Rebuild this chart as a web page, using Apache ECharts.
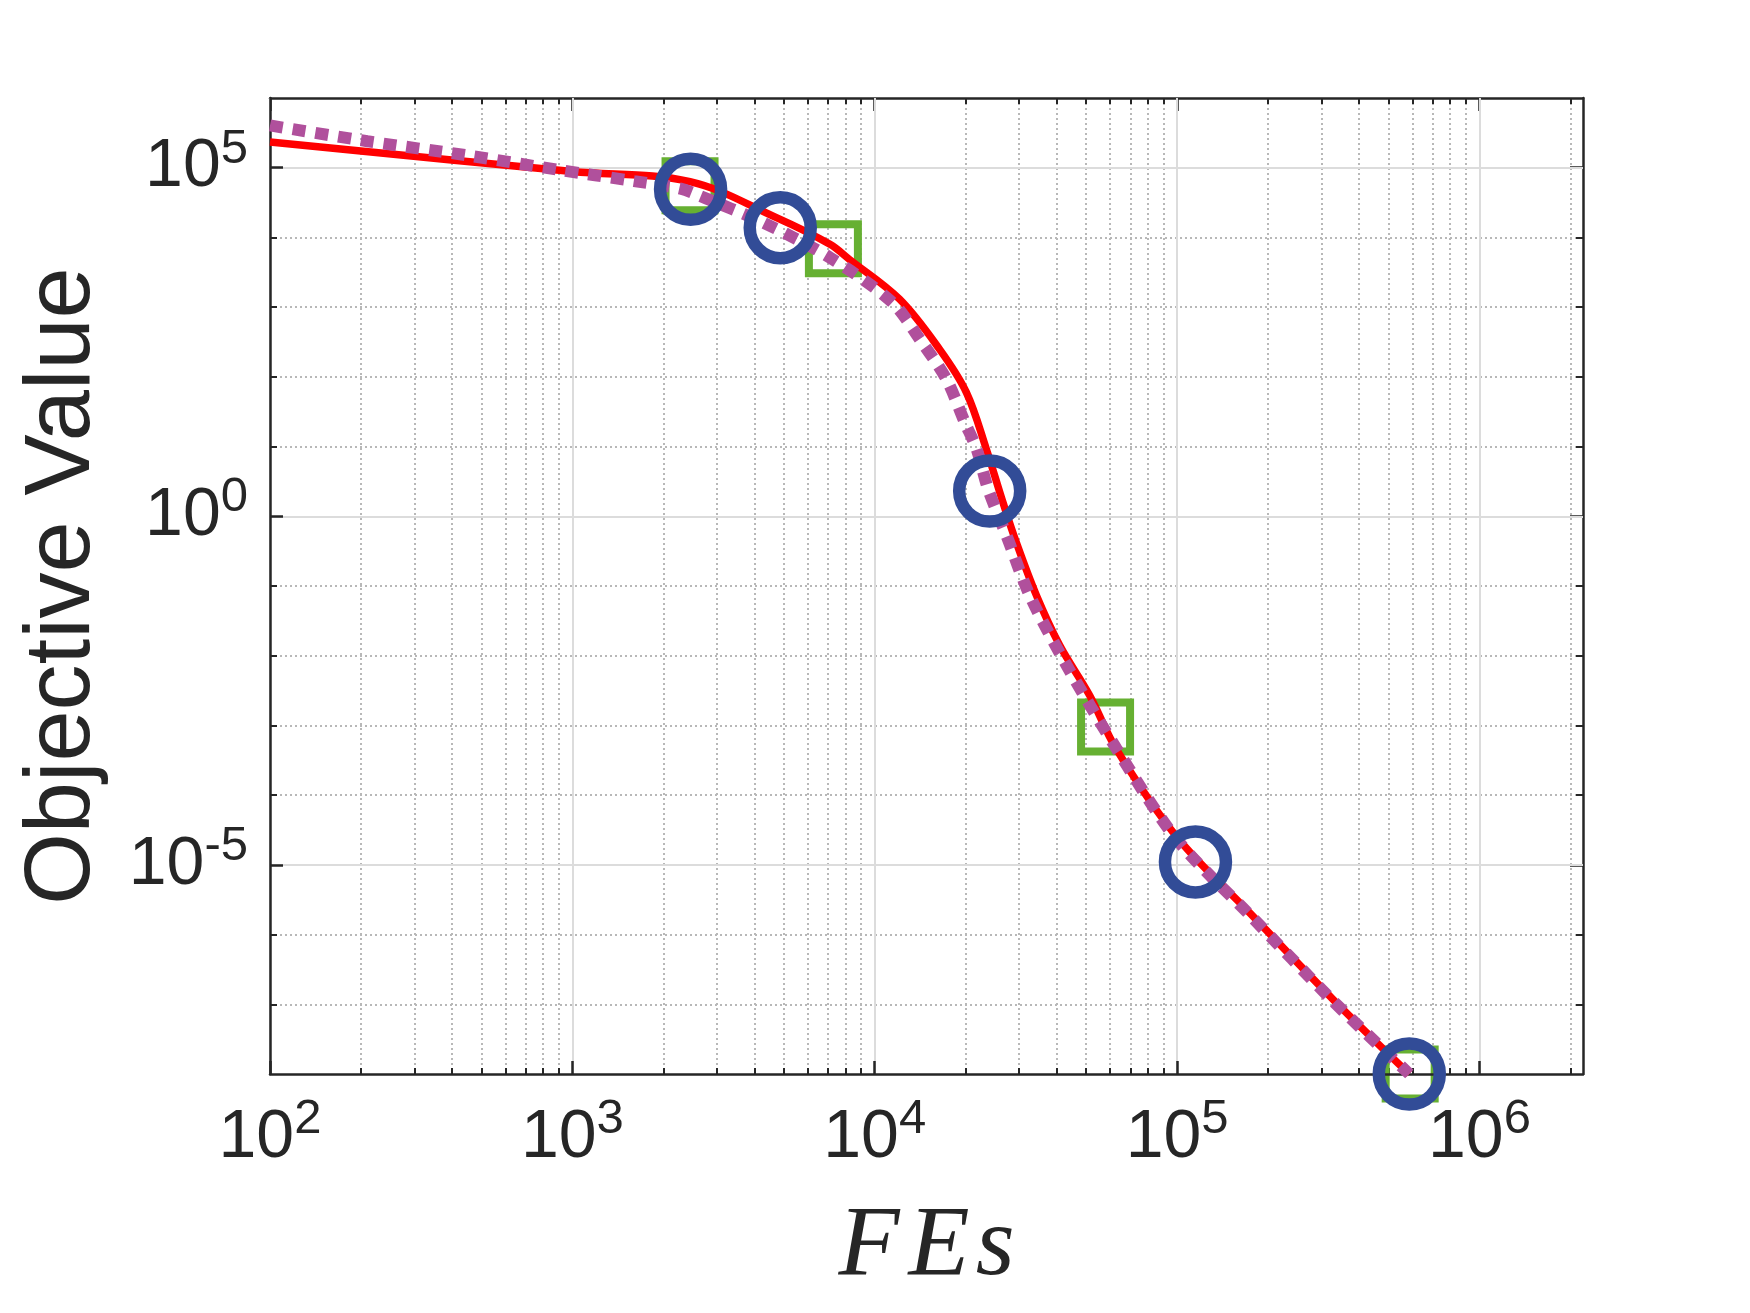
<!DOCTYPE html>
<html>
<head>
<meta charset="utf-8">
<script src="https://cdn.jsdelivr.net/npm/echarts@6/dist/echarts.min.js"></script>
<style>
  html, body { margin: 0; padding: 0; background: #fff; }
  #chart { width: 1750px; height: 1313px; }
</style>
</head>
<body>
<div id="chart"></div>
<script>
// 数据
var redFes = [100, 1000, 2450, 4730, 7110, 8240, 12080, 16370, 20090, 23390, 26550, 29380, 34280, 40930, 51400, 62950, 99540, 174200, 328900, 586000];
var redObj = [2.33e5, 8.8e4, 6.3e4, 1.92e4, 7.96e3, 4.85e3, 1.3e3, 249.5, 59.8, 9.2, 1.585, 0.424, 0.0728, 0.014, 2.69e-3, 4.57e-4, 2.55e-5, 2.03e-6, 1.16e-7, 1e-8];

var purpleFes = [100, 210, 450, 910, 1600, 2280, 2650, 4280, 7110, 11460, 14090, 17260, 19860, 21730, 23710, 27290, 32580, 43150, 62950, 99540, 174200, 328900, 586000];
var purpleObj = [4.04e5, 2.4e5, 1.5e5, 9.25e4, 6.43e4, 5.0e4, 3.92e4, 1.63e4, 5.14e3, 1.16e3, 346.7, 92.7, 22.2, 9.2, 2.46, 0.527, 0.0728, 7.24e-3, 4.68e-4, 2.34e-5, 1.9e-6, 1.1e-7, 1e-8];

var squareFes = [2450, 7300, 58000, 590000];
var squareObj = [5.5e4, 6.9e3, 9.5e-4, 1e-8];

var circleFes = [2460, 4870, 24000, 115000, 586000];
var circleObj = [4.9e4, 1.38e4, 2.3, 1.1e-5, 1e-8];

// 刻度
var xMajor = [1e2, 1e3, 1e4, 1e5, 1e6];
var yMajor = [1e-5, 1, 1e5];
var xMin = 100, xMax = 2.2e6;
var yMin = 1e-8, yMax = 1e6;

var xMinor = [];
for (var d = 2; d <= 6; d++) {
  for (var k = 2; k <= 9; k++) {
    var v = k * Math.pow(10, d);
    if (v < xMax) xMinor.push(v);
  }
}
var yMinor = [];
for (var e = -7; e <= 5; e++) {
  var yv = Math.pow(10, e);
  if (yMajor.indexOf(yv) < 0) yMinor.push(yv);
}

function pairs(xs, ys) {
  return xs.map(function (x, i) { return [x, ys[i]]; });
}

var textColor = '#262626';
var axisColor = '#262626';

var powLabel = {
  fontFamily: 'Liberation Sans',
  color: textColor,
  formatter: function (v) {
    var p = Math.round(Math.log10(v));
    return '{b|10}{s|' + p + '}';
  },
  rich: {
    b: { fontSize: 68, lineHeight: 68, fontFamily: 'Liberation Sans', color: textColor, verticalAlign: 'bottom' },
    s: { fontSize: 49, lineHeight: 49, fontFamily: 'Liberation Sans', color: textColor, padding: [0, 0, 37, 0] }
  }
};

function axisBase(min, max) {
  return { type: 'log', logBase: 10, min: min, max: max };
}

var nameFont = { fontFamily: 'Liberation Serif', fontStyle: 'italic', fontSize: 100, color: textColor };

var chart = echarts.init(document.getElementById('chart'), null, { renderer: 'canvas' });

var option = {
  backgroundColor: '#fff',
  animation: false,
  grid: {
    left: 270, right: 167, top: 98, bottom: 239,
    containLabel: false,
    outerBoundsMode: 'none'
  },
  xAxis: [
    Object.assign(axisBase(xMin, xMax), {
      position: 'bottom',
      name: '{f|F}{e|E}{s|s}',
      nameLocation: 'middle',
      nameGap: 124,
      nameTextStyle: {
        color: textColor,
        rich: {
          f: Object.assign({ padding: [0, 9, 0, 0] }, nameFont),
          e: Object.assign({ padding: [0, 6, 0, 0] }, nameFont),
          s: Object.assign({}, nameFont)
        }
      },
      axisLine: { show: true, onZero: false, lineStyle: { color: axisColor, width: 2.5 } },
      axisTick: { show: true, inside: true, length: 13, lineStyle: { color: axisColor, width: 2.5 }, customValues: xMajor },
      axisLabel: Object.assign({ margin: 30, customValues: xMajor }, powLabel),
      splitLine: { show: true, lineStyle: { color: '#dcdcdc', width: 2 } },
      z: 3
    }),
    Object.assign(axisBase(xMin, xMax), {
      position: 'bottom',
      axisLine: { show: false },
      axisTick: { show: true, inside: true, length: 6, lineStyle: { color: axisColor, width: 2 }, customValues: xMinor },
      axisLabel: { show: false },
      splitLine: { show: true, lineStyle: { color: '#b8b8b8', width: 2, type: [2, 3] } }
    }),
    Object.assign(axisBase(xMin, xMax), {
      position: 'top',
      axisLine: { show: true, onZero: false, lineStyle: { color: axisColor, width: 2.5 } },
      axisTick: { show: true, inside: true, length: 13, lineStyle: { color: axisColor, width: 2.5 }, customValues: xMajor },
      axisLabel: { show: false },
      splitLine: { show: false }
    }),
    Object.assign(axisBase(xMin, xMax), {
      position: 'top',
      axisLine: { show: false },
      axisTick: { show: true, inside: true, length: 6, lineStyle: { color: axisColor, width: 2 }, customValues: xMinor },
      axisLabel: { show: false },
      splitLine: { show: false }
    })
  ],
  yAxis: [
    Object.assign(axisBase(yMin, yMax), {
      position: 'left',
      name: 'Objective Value',
      nameLocation: 'middle',
      nameRotate: 90,
      nameGap: 160,
      nameTextStyle: { fontFamily: 'Liberation Sans', fontSize: 92, color: textColor },
      axisLine: { show: true, onZero: false, lineStyle: { color: axisColor, width: 2.5 } },
      axisTick: { show: true, inside: true, length: 13, lineStyle: { color: axisColor, width: 2.5 }, customValues: yMajor },
      axisLabel: Object.assign({ margin: 22, customValues: yMajor }, powLabel),
      splitLine: { show: true, lineStyle: { color: '#dcdcdc', width: 2 } },
      z: 3
    }),
    Object.assign(axisBase(yMin, yMax), {
      position: 'left',
      axisLine: { show: false },
      axisTick: { show: true, inside: true, length: 7, lineStyle: { color: axisColor, width: 2 }, customValues: yMinor },
      axisLabel: { show: false },
      splitLine: { show: true, lineStyle: { color: '#b8b8b8', width: 2, type: [2, 3] } }
    }),
    Object.assign(axisBase(yMin, yMax), {
      position: 'right',
      axisLine: { show: true, onZero: false, lineStyle: { color: axisColor, width: 2.5 } },
      axisTick: { show: true, inside: true, length: 13, lineStyle: { color: axisColor, width: 2.5 }, customValues: yMajor },
      axisLabel: { show: false },
      splitLine: { show: false }
    }),
    Object.assign(axisBase(yMin, yMax), {
      position: 'right',
      axisLine: { show: false },
      axisTick: { show: true, inside: true, length: 7, lineStyle: { color: axisColor, width: 2 }, customValues: yMinor },
      axisLabel: { show: false },
      splitLine: { show: false }
    })
  ],
  series: [
    {
      name: 'squares',
      type: 'scatter',
      xAxisIndex: 0, yAxisIndex: 0,
      data: pairs(squareFes, squareObj),
      symbol: 'rect',
      symbolSize: 49,
      itemStyle: { color: 'rgba(0,0,0,0)', borderColor: '#66B032', borderWidth: 8, opacity: 1 },
      z: 2
    },
    {
      name: 'red',
      type: 'line',
      xAxisIndex: 0, yAxisIndex: 0,
      data: pairs(redFes, redObj),
      showSymbol: false,
      smooth: 0.35,
      lineStyle: { color: '#FF0000', width: 7.5 },
      z: 3
    },
    {
      name: 'purple',
      type: 'line',
      xAxisIndex: 0, yAxisIndex: 0,
      data: pairs(purpleFes, purpleObj),
      showSymbol: false,
      smooth: 0.3,
      lineStyle: { color: '#B0509C', width: 12, type: [13, 10], cap: 'butt' },
      z: 4
    },
    {
      name: 'circles',
      type: 'scatter',
      xAxisIndex: 0, yAxisIndex: 0,
      data: pairs(circleFes, circleObj),
      symbol: 'circle',
      symbolSize: 61,
      itemStyle: { color: 'rgba(0,0,0,0)', borderColor: '#324C97', borderWidth: 12.5, opacity: 1 },
      z: 5
    }
  ]
};

chart.setOption(option);
</script>
</body>
</html>
